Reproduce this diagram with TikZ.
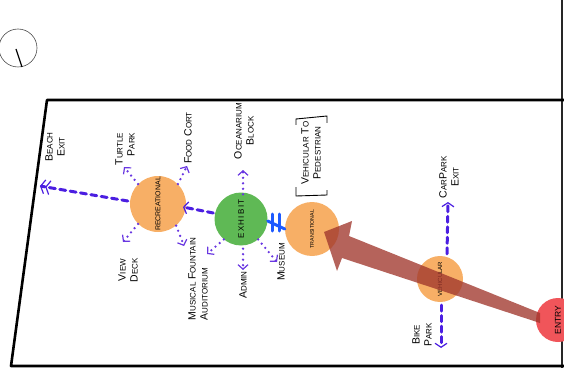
\documentclass[tikz,border=0pt]{standalone}
\usepackage{fontspec}
\setmainfont{Liberation Sans}
\usetikzlibrary{arrows.meta}
\definecolor{dashblue}{RGB}{75,30,225}
\definecolor{dotpurple}{RGB}{105,55,225}
\definecolor{barblue}{RGB}{30,90,255}
\definecolor{orangefill}{RGB}{247,175,102}
\definecolor{greenfill}{RGB}{95,185,85}
\definecolor{entryred}{RGB}{240,85,90}
\definecolor{bigarrow}{RGB}{160,55,45}
\newcommand\hw[2]{{\fontsize{10.5}{12}\selectfont #1}{\fontsize{8}{12}\selectfont #2}}
\begin{document}
\begin{tikzpicture}[x=1pt,y=-1pt,
  zone/.style={circle, inner sep=0pt, minimum size=#1},
  dashconn/.style={dashblue, line width=3pt, dash pattern=on 6pt off 4.5pt, line cap=round,
     -{Straight Barb[length=4pt,width=12pt,line width=1.2pt]}},
  dotconn/.style={dotpurple, line width=2.6pt, dash pattern=on 0pt off 5.5pt, line cap=round,
     -{Straight Barb[length=4.5pt,width=10pt,line width=1.2pt]}},
  lbl/.style={rotate=90, align=center, inner sep=0pt},
  inlbl/.style={rotate=90, inner sep=0pt, font=\fontsize{#1}{#1}\selectfont}
]
\useasboundingbox (0,0) rectangle (564,382);
% frame
\draw[line width=1.6pt, black!85] (562,-2) -- (562,368);
\draw[line width=2.6pt, line join=round] (566,100) -- (47,100) -- (11,366) -- (566,366);
% compass
\draw[black!70, line width=0.6pt] (18,48) circle (19);
\draw[line width=1.2pt] (16,49) -- (22,67);

% zones
\node[zone=56, fill=orangefill] (rec) at (158,204) {};
\node[zone=53, fill=greenfill] (exh) at (241,219) {};
\node[zone=54, fill=orangefill] (tra) at (312,229) {};
\node[zone=46, fill=orangefill] (veh) at (440,279) {};
\node[zone=44, fill=entryred] (ent) at (558,320) {};

% free ends
\coordinate (beachEnd) at (40,186);
\coordinate (turtleEnd) at (124,167);
\coordinate (foodEnd) at (187,166);
\coordinate (viewEnd) at (123,242);
\coordinate (musEnd) at (184,246);
\coordinate (oceanEnd) at (243,170);
\coordinate (dlEnd) at (207,254);
\coordinate (adminEnd) at (243,270);
\coordinate (museumEnd) at (277,262);
\coordinate (carEnd) at (448,202);
\coordinate (bikeEnd) at (441,348);

% dashed connectors
\draw[dashconn, -{Straight Barb[length=4pt,width=14pt,line width=1.2pt] Straight Barb[length=4pt,width=14pt,line width=1.2pt]}]
  (rec.west) ++(-2,-3) -- (beachEnd);
\draw[dashconn] (exh.west) ++(-1,-6) -- (183,207);
\draw[dashconn] (veh.north) ++(7,-2) -- (carEnd);
\draw[dashconn] (veh.south) ++(1,3) -- (bikeEnd);

% dotted connectors
\draw[dotconn] (rec.135) -- (turtleEnd);
\draw[dotconn] (rec.45) -- (foodEnd);
\draw[dotconn] (rec.225) -- (viewEnd);
\draw[dotconn] (rec.310) -- (musEnd);
\draw[dotconn] (exh.north) ++(2,2) -- (oceanEnd);
\draw[dotconn] (exh.230) -- (dlEnd);
\draw[dotconn] (exh.south) ++(2,3) -- (adminEnd);
\draw[dotconn] (exh.310) -- (museumEnd);

% double bar connector
\draw[barblue, line width=3pt, line cap=round] (exh.east) ++(0,2) -- (tra.west);
\draw[barblue, line width=3pt, line cap=round] (272,214) -- (272,231) (279,214) -- (279,231);

% zone labels
\node[inlbl=7] at (rec.center) {RECREATIONAL};
\node[inlbl=8] at (exh.center) {E\,X\,H\,I\,B\,I\,T};
\node[inlbl=5.3] at (tra.center) {TRANSITIONAL};
\node[inlbl=6] at (veh.center) {VEHICULAR};

% big movement arrow
\fill[bigarrow, opacity=0.78]
  (324,232) -- (352,221) -- (349,236) -- (540,313) -- (540,323) -- (342,258) -- (337,271) -- cycle;

\node[inlbl=8.5] at (ent.center) {ENTRY};

% text labels
\node[lbl] at (55,147) {\hw{B}{EACH}\\\hw{E}{XIT}};
\node[lbl, align=right] at (125,149) {\hw{T}{URTLE}\\\hw{P}{ARK}};
\node[lbl] at (188,138) {\hw{F}{OOD} \hw{C}{ORT}};
\node[lbl] at (244,131) {\hw{O}{CEANARIUM}\\\hw{B}{LOCK}};
\node[lbl] at (311,153) {\hw{V}{EHICULAR} \hw{T}{O}\\\hw{P}{EDESTRIAN}};
\draw[line width=0.9pt] (296,125) -- (296,119) -- (327,116) -- (327,123);
\draw[line width=0.9pt] (296,187) -- (296,196) -- (327,195) -- (327,190);
\node[lbl] at (449,177) {\hw{C}{AR}\hw{P}{ARK}\\\hw{E}{XIT}};
\node[lbl] at (422,335) {\hw{B}{IKE}\\\hw{P}{ARK}};
\node[lbl] at (128,270) {\hw{V}{IEW}\\\hw{D}{ECK}};
\node[lbl, align=left] at (198,279) {\hw{M}{USICAL} \hw{F}{OUNTAIN}\\\hw{A}{UDITORIUM}};
\node[lbl] at (243,285) {\hw{A}{DMIN}};
\node[lbl] at (281,262) {\hw{M}{USEUM}};
\end{tikzpicture}
\end{document}
